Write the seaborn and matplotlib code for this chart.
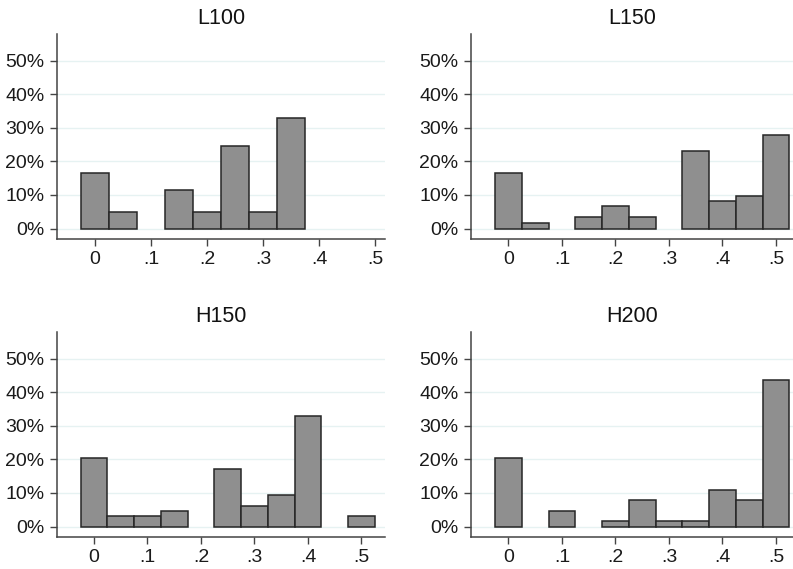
import matplotlib
matplotlib.use("Agg")
import matplotlib.pyplot as plt
import seaborn as sns
import numpy as np

sns.set_theme(style="white")
plt.rcParams['font.family'] = ['Liberation Sans', 'DejaVu Sans']

# Bin centres (share) and percentage of observations per panel
titles = ["L100", "L150", "H150", "H200"]
l100_x = [0.00, 0.05, 0.15, 0.20, 0.25, 0.30, 0.35]
l100_y = [16.4, 4.9, 11.5, 4.9, 24.6, 4.9, 32.8]
l150_x = [0.00, 0.05, 0.15, 0.20, 0.25, 0.35, 0.40, 0.45, 0.50]
l150_y = [16.4, 1.6, 3.3, 6.6, 3.3, 23.0, 8.2, 9.8, 27.9]
h150_x = [0.00, 0.05, 0.10, 0.15, 0.25, 0.30, 0.35, 0.40, 0.50]
h150_y = [20.3, 3.1, 3.1, 4.7, 17.2, 6.25, 9.4, 32.8, 3.1]
h200_x = [0.00, 0.10, 0.20, 0.25, 0.30, 0.35, 0.40, 0.45, 0.50]
h200_y = [20.3, 4.7, 1.6, 7.8, 1.6, 1.6, 10.9, 7.8, 43.75]

x_ticks = [0, 0.1, 0.2, 0.3, 0.4, 0.5]
x_tick_labels = ["0", ".1", ".2", ".3", ".4", ".5"]
y_ticks = [0, 10, 20, 30, 40, 50]
y_tick_labels = ["0%", "10%", "20%", "30%", "40%", "50%"]

W, H = 793, 569
fig = plt.figure(figsize=(W / 100, H / 100), dpi=100)

# panel boxes in pixels: left, right, top, bottom
boxes = [(57, 385, 34, 239), (471, 793, 34, 239),
         (57, 385, 332, 537), (471, 793, 332, 537)]
xlims = [(-0.068, 0.518), (-0.07, 0.532), (-0.069, 0.544), (-0.07, 0.532)]
data = [(l100_x, l100_y), (l150_x, l150_y), (h150_x, h150_y), (h200_x, h200_y)]

for (l, r, t, b), title, (xs, ys), xl in zip(boxes, titles, data, xlims):
    ax = fig.add_axes([l / W, 1 - b / H, (r - l) / W, (b - t) / H])
    sns.histplot(x=xs, weights=ys, binwidth=0.05, binrange=(-0.025, 0.525),
                 stat="count", color="#8f8f8f", alpha=1, edgecolor="#262626",
                 linewidth=1.1, ax=ax)
    # drop empty bins (the reference shows gaps there)
    for p in list(ax.patches):
        if p.get_height() <= 0:
            p.remove()
    ax.set_xlim(*xl)
    ax.set_ylim(-3.1, 57.9)
    ax.set_xticks(x_ticks)
    ax.set_xticklabels(x_tick_labels)
    ax.set_yticks(y_ticks)
    ax.set_yticklabels(y_tick_labels)
    ax.set_xlabel("")
    ax.set_ylabel("")
    for yv in y_ticks:
        ax.axhline(yv, color="#e6f2f2", lw=1.0, zorder=0)
    ax.set_axisbelow(True)
    for s in ["top", "right"]:
        ax.spines[s].set_visible(False)
    for s in ["left", "bottom"]:
        ax.spines[s].set_color("#444444")
        ax.spines[s].set_linewidth(1.1)
    ax.tick_params(axis="both", which="major", direction="out", length=5,
                   width=1, color="#444444", labelsize=14,
                   labelcolor="#1a1a1a", bottom=True, left=True, pad=4)
    ax.set_title(title, fontsize=15.5, color="#111111", pad=7)
    ax.set_facecolor("white")

fig.savefig("out.png", dpi=100, facecolor="white")
